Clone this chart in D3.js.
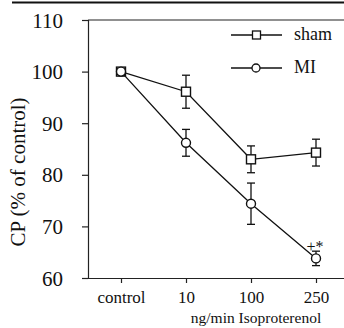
<!DOCTYPE html>
<html>
<head>
<meta charset="utf-8">
<script src="https://cdn.jsdelivr.net/npm/d3@7"></script>
<style>
  body { margin: 0; background: #fff; }
</style>
</head>
<body>
<div id="chart"></div>
<script>
// Data
const doses = ['control', '10', '100', '250']
const shamMean = [100, 96.1, 83.0, 84.3]
const shamErr = [0, 3.2, 2.6, 2.6]
const miMean = [100, 86.2, 74.4, 63.8]
const miErr = [0, 2.6, 4.0, 1.4]
const yTicks = [60, 70, 80, 90, 100, 110]

const width = 344
const height = 328
const margin = { top: 20, right: 0, bottom: 50, left: 88 }
const FONT = "'Liberation Serif'"

const svg = d3.select('#chart').append('svg')
  .attr('width', width)
  .attr('height', height)

const serif = sel => sel
  .style('font-family', FONT)
  .style('fill', '#111')
  .style('stroke', 'none')

const x = d3.scalePoint().domain(doses).range([121, 316])
const y = d3.scaleLinear().domain([60, 110]).range([278, 20])

// scan border line at top
svg.append('line')
  .attr('x1', 12).attr('x2', width).attr('y1', 2.5).attr('y2', 2.5)
  .attr('stroke', '#111').attr('stroke-width', 2)

// top frame line
svg.append('line')
  .attr('x1', 88).attr('x2', width).attr('y1', y(110)).attr('y2', y(110))
  .attr('stroke', '#222').attr('stroke-width', 1.2)

// Y axis
const yAxis = svg.append('g')
  .attr('transform', `translate(${margin.left},0)`)
  .call(d3.axisLeft(y).tickValues(yTicks).tickSize(6).tickPadding(19))
yAxis.select('.domain').attr('stroke', '#222').attr('stroke-width', 1.2)
yAxis.selectAll('.tick line').attr('stroke', '#222').attr('stroke-width', 1.2)
yAxis.selectAll('text')
  .call(serif)
  .style('font-size', '21px')
  .attr('dy', '0.34em')

// X axis
const xAxis = svg.append('g')
  .attr('transform', `translate(0,${y(60)})`)
  .call(d3.axisBottom(x).tickSize(5).tickPadding(8))
xAxis.select('.domain').attr('d', `M82,0.5H${width}`).attr('stroke', '#222').attr('stroke-width', 1.2)
xAxis.selectAll('.tick line').attr('stroke', '#222').attr('stroke-width', 1.2)
xAxis.selectAll('text')
  .call(serif)
  .style('font-size', '17px')

// axis titles
svg.append('text')
  .call(serif)
  .attr('transform', 'translate(25,172) rotate(-90)')
  .attr('text-anchor', 'middle')
  .style('font-size', '21px')
  .text('CP (% of control)')

svg.append('text')
  .call(serif)
  .attr('x', 256).attr('y', 323)
  .attr('text-anchor', 'middle')
  .style('font-size', '15.5px')
  .text('ng/min Isoproterenol')

const series = [
  { name: 'sham', mean: shamMean, err: shamErr, shape: 'square' },
  { name: 'MI', mean: miMean, err: miErr, shape: 'circle' }
]

const line = d3.line()
  .x(d => x(d.dose))
  .y(d => y(d.v))

series.forEach(s => {
  const pts = doses.map((d, i) => ({ dose: d, v: s.mean[i], e: s.err[i] }))

  svg.append('path')
    .datum(pts)
    .attr('fill', 'none')
    .attr('stroke', '#111')
    .attr('stroke-width', 1.3)
    .attr('d', line)

  // error bars with caps
  const eb = svg.append('g').selectAll('g')
    .data(pts.filter(p => p.e > 0))
    .join('g')
    .attr('stroke', '#111')
    .attr('stroke-width', 1.3)
  eb.append('line')
    .attr('x1', d => x(d.dose)).attr('x2', d => x(d.dose))
    .attr('y1', d => y(d.v + d.e)).attr('y2', d => y(d.v - d.e))
  eb.append('line')
    .attr('x1', d => x(d.dose) - 4).attr('x2', d => x(d.dose) + 4)
    .attr('y1', d => y(d.v + d.e)).attr('y2', d => y(d.v + d.e))
  eb.append('line')
    .attr('x1', d => x(d.dose) - 4).attr('x2', d => x(d.dose) + 4)
    .attr('y1', d => y(d.v - d.e)).attr('y2', d => y(d.v - d.e))

  const m = svg.append('g').selectAll('.m')
    .data(pts)
    .join(s.shape === 'square' ? 'rect' : 'circle')
    .attr('fill', '#fff')
    .attr('stroke', '#111')
    .attr('stroke-width', 1.4)
  if (s.shape === 'square') {
    m.attr('x', d => x(d.dose) - 4.5).attr('y', d => y(d.v) - 4.5)
      .attr('width', 9).attr('height', 9)
  } else {
    m.attr('cx', d => x(d.dose)).attr('cy', d => y(d.v)).attr('r', 4.5)
  }
})

// significance marks
svg.append('text')
  .call(serif)
  .attr('x', x('250') - 1).attr('y', y(miMean[3] + miErr[3]) + 1)
  .attr('text-anchor', 'middle')
  .style('font-size', '16px')
  .text('+*')

// legend
const legend = [
  { name: 'sham', shape: 'square', y: 35 },
  { name: 'MI', shape: 'circle', y: 68 }
]
legend.forEach(l => {
  svg.append('line')
    .attr('x1', 231).attr('x2', 282).attr('y1', l.y).attr('y2', l.y)
    .attr('stroke', '#111').attr('stroke-width', 1.3)
  if (l.shape === 'square') {
    svg.append('rect').attr('x', 252.5).attr('y', l.y - 4).attr('width', 8).attr('height', 8)
      .attr('fill', '#fff').attr('stroke', '#111').attr('stroke-width', 1.3)
  } else {
    svg.append('circle').attr('cx', 256).attr('cy', l.y).attr('r', 4)
      .attr('fill', '#fff').attr('stroke', '#111').attr('stroke-width', 1.3)
  }
  svg.append('text')
    .call(serif)
    .attr('x', 294).attr('y', l.y + 5)
    .style('font-size', '18px')
    .text(l.name)
})
</script>
</body>
</html>
